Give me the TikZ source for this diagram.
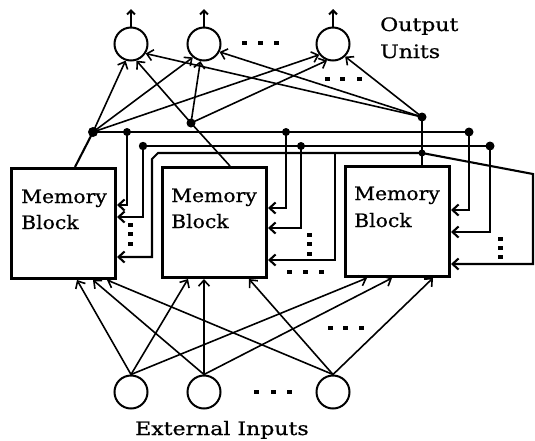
\documentclass[tikz,border=0pt]{standalone}
\usepackage{fontspec}
\newfontfamily\lblfont[FakeStretch=1.1,FakeBold=0.8]{DejaVu Serif}
\newfontfamily\lblwide[FakeStretch=1.19,FakeBold=0.8]{DejaVu Serif}
\usetikzlibrary{arrows.meta}
\begin{document}
\begin{tikzpicture}[x=1pt,y=-1pt,
  unit/.style={draw,circle,line width=2pt,minimum size=33pt,inner sep=0pt},
  block/.style={draw,line width=3pt,rectangle,inner sep=0pt,anchor=north west,minimum width=104pt,minimum height=110pt},
  wire/.style={line width=2.1pt},
  conn/.style={line width=1.6pt,-{Straight Barb[length=6pt,width=11pt]}},
  warr/.style={wire,-{Straight Barb[length=6pt,width=11pt]}},
  uparr/.style={line width=2pt,-{Straight Barb[length=4pt,width=8pt]}},
  lbl/.style={font=\lblfont\fontsize{18.5}{26}\selectfont,inner sep=0pt,anchor=base west},
  lblw/.style={font=\lblwide\fontsize{18.5}{26}\selectfont,inner sep=0pt,anchor=base west},
  sq/.style={fill,minimum width=5pt,minimum height=4pt,inner sep=0pt}
]
\useasboundingbox (0,0) rectangle (535,440);

% output units
\node[unit] (o1) at (131,44) {};
\node[unit] (o2) at (204,44) {};
\node[unit] (o3) at (333,44) {};
\coordinate (t1) at (131,9);
\coordinate (t2) at (204,9);
\coordinate (t3) at (333,9);
\draw[uparr] (o1.north) -- (t1);
\draw[uparr] (o2.north) -- (t2);
\draw[uparr] (o3.north) -- (t3);
\node[lblw] (outl1) at (380,31) {Output};
\node[lblw] (outl2) at (380,58) {Units};

% input units
\node[unit] (i1) at (131,392) {};
\node[unit] (i2) at (204,392) {};
\node[unit] (i3) at (333,392) {};
\node[lblw] (inl) at (135,435) {External Inputs};

% memory blocks
\node[block] (b1) at (10,167) {};
\node[block] (b2) at (161,166) {};
\node[block] (b3) at (344,165) {};
\node[lbl] (m1a) at (21,203) {Memory};
\node[lbl] (m1b) at (21,229) {Block};
\node[lbl] (m2a) at (171,202) {Memory};
\node[lbl] (m2b) at (171,228) {Block};
\node[lbl] (m3a) at (354,200) {Memory};
\node[lbl] (m3b) at (354,227) {Block};

% junctions
\coordinate (dA) at (93,132);
\coordinate (dB) at (191,123);
\coordinate (dC) at (422,117);
\coordinate (j11) at (127,132);
\coordinate (j12) at (286,132);
\coordinate (j13) at (469,132);
\coordinate (j21) at (143,146);
\coordinate (j22) at (301,146);
\coordinate (j23) at (490,146);
\coordinate (j3c) at (422,153);
\coordinate (j3b) at (335,153);
\coordinate (c3a) at (158,153);
\coordinate (c3b) at (152,159);
\coordinate (c3r) at (533,174);

% block outputs to output units
\draw[wire] (75,0 |- b1.north) -- (dA);
\draw[conn] (dA) -- (o1.252);
\draw[conn] (dA) -- (o2.230);
\draw[conn] (dA) -- (o3.218);
\draw[conn] (230,0 |- b2.north) -- (dB) -- (o1.288);
\draw[conn] (dB) -- (o2.258);
\draw[conn] (dB) -- (o3.250);
\draw[wire] (422,0 |- b3.north) -- (dC);
\draw[conn] (dC) -- (o1.327);
\draw[conn] (dC) -- (o2.333);
\draw[conn] (dC) -- (o3.314);

% recurrent buses
\draw[wire] (dA) -- (j13);
\draw[wire] (j21) -- (j23);
\draw[warr] (j11) |- (b1.east |- 0,205);
\draw[warr] (j12) |- (b2.east |- 0,208);
\draw[warr] (j13) |- (b3.east |- 0,210);
\draw[warr] (j21) |- (b1.east |- 0,217);
\draw[warr] (j22) |- (b2.east |- 0,228);
\draw[warr] (j23) |- (b3.east |- 0,232);
\draw[warr] (j3c) -- (c3a) -- (c3b) |- (b1.east |- 0,257);
\draw[warr] (j3b) |- (b2.east |- 0,260);
\draw[warr] (j3c) -- (c3r) |- (b3.east |- 0,264);

% junction dots
\fill (dA) circle (5pt);
\fill (dB) circle (4.5pt);
\fill (dC) circle (4.5pt);
\fill (j11) circle (4pt);
\fill (j12) circle (4pt);
\fill (j13) circle (4.5pt);
\fill (j21) circle (4.2pt);
\fill (j22) circle (4pt);
\fill (j23) circle (4.5pt);
\fill (j3c) circle (3.5pt);

% inputs to blocks
\draw[conn] (i1.north) -- (77,0 |- b1.south);
\draw[conn] (i2.north) -- (93,0 |- b1.south);
\draw[conn] (i3.north) -- (107,0 |- b1.south);
\draw[conn] (i1.north) -- (188,0 |- b2.south);
\draw[conn] (i2.north) -- (204,0 |- b2.south);
\draw[conn] (i3.north) -- (249,0 |- b2.south);
\draw[conn] (i1.north) -- (367,0 |- b3.south);
\draw[conn] (i2.north) -- (392,0 |- b3.south);
\draw[conn] (i3.north) -- (433,0 |- b3.south);

% ellipsis dots
\foreach \x [count=\k] in {244.5,260.5,276} \node[sq] (da\k) at (\x,43) {};
\foreach \x [count=\k] in {327.5,342.5,359} \node[sq] (db\k) at (\x,79) {};
\foreach \x [count=\k] in {289.5,305.5,321} \node[sq] (dc\k) at (\x,272) {};
\foreach \x [count=\k] in {330,345,361} \node[sq] (dd\k) at (\x,328) {};
\foreach \x [count=\k] in {256.5,273.5,289.5} \node[sq] (de\k) at (\x,392) {};
\foreach \y [count=\k] in {225,234,244} \node[sq] (vf\k) at (130.5,\y) {};
\foreach \y [count=\k] in {235,244,254} \node[sq] (vg\k) at (309.5,\y) {};
\foreach \y [count=\k] in {239,248,257} \node[sq] (vh\k) at (500.5,\y) {};
\end{tikzpicture}
\end{document}
